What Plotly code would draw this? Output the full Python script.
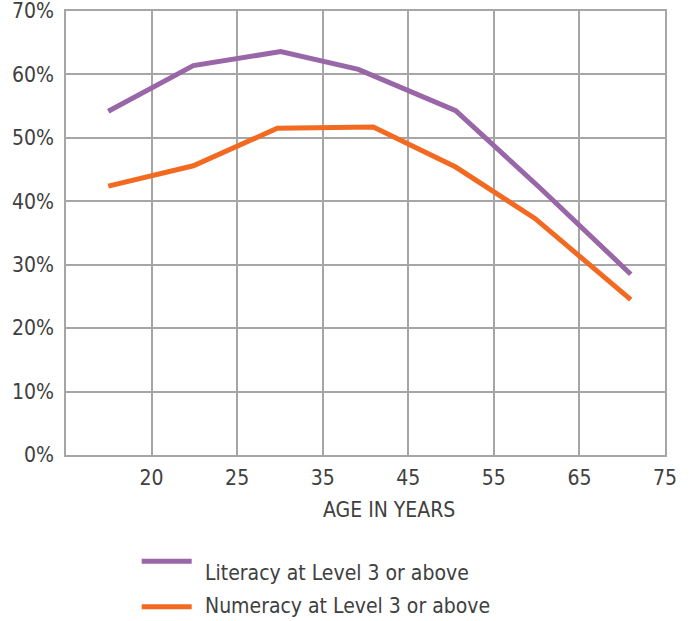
import plotly.graph_objects as go

# Age-band position (band index units; ticks at band boundaries)
lit_x = [0.494, 1.488, 2.509, 3.416, 4.554, 5.54, 6.60]
lit_y = [54.2, 61.4, 63.6, 60.8, 54.3, 42.1, 28.5]
num_x = [0.494, 1.488, 2.469, 3.591, 4.554, 5.48, 6.60]
num_y = [42.4, 45.6, 51.5, 51.7, 45.4, 37.3, 24.5]

tick_vals = [1, 2, 3, 4, 5, 6, 7]
tick_text = ["20", "25", "35", "45", "55", "65", "75"]
y_ticks = [0, 10, 20, 30, 40, 50, 60, 70]
y_text = [f"{v}%" for v in y_ticks]

PURPLE = "#9966A8"
ORANGE = "#F26A21"
GRID = "#A6A6A6"
TEXT = "#404040"
FONT = "Liberation Sans Narrow, DejaVu Sans Condensed, Noto Sans, sans-serif"

fig = go.Figure()
fig.add_trace(go.Scatter(x=lit_x, y=lit_y, mode="lines",
                         line=dict(color=PURPLE, width=5),
                         name="Literacy at Level 3 or above"))
fig.add_trace(go.Scatter(x=num_x, y=num_y, mode="lines",
                         line=dict(color=ORANGE, width=5),
                         name="Numeracy at Level 3 or above"))

fig.update_layout(
    width=694, height=621,
    margin=dict(l=66, r=29, t=11, b=166, autoexpand=False),
    paper_bgcolor="white", plot_bgcolor="white",
    showlegend=False,
    font=dict(family=FONT, color=TEXT, size=20),
)
fig.update_xaxes(range=[0, 7], tickvals=tick_vals, ticktext=tick_text,
                 showgrid=True, gridcolor=GRID, gridwidth=1.5,
                 showline=True, linecolor=GRID, linewidth=1.5, mirror=True,
                 zeroline=False, ticks="", ticklabelstandoff=3,
                 automargin=False, ticklabeloverflow="allow",
                 tickfont=dict(size=21, color=TEXT, family=FONT))
fig.update_yaxes(range=[0, 70], tickvals=y_ticks, ticktext=y_text,
                 showgrid=True, gridcolor=GRID, gridwidth=1.5,
                 showline=True, linecolor=GRID, linewidth=1.5, mirror=True,
                 zeroline=False, ticks="", ticklabelstandoff=6,
                 automargin=False, ticklabeloverflow="allow",
                 tickfont=dict(size=21, color=TEXT, family=FONT))

# axis title
fig.add_annotation(text="AGE IN YEARS", xref="paper", yref="paper",
                   x=(389 - 66) / 599, y=(455.2 - 510.5) / 444.5,
                   showarrow=False, xanchor="center", yanchor="middle",
                   font=dict(size=21, color=TEXT, family=FONT))

# manual legend
leg = [("Literacy at Level 3 or above", PURPLE, 561.5, 573),
       ("Numeracy at Level 3 or above", ORANGE, 607, 606)]
for name, col, ly, ty in leg:
    yy = (455.2 - ly) / 444.5
    fig.add_shape(type="line", xref="paper", yref="paper",
                  x0=(141.7 - 66) / 599, x1=(191.7 - 66) / 599, y0=yy, y1=yy,
                  line=dict(color=col, width=5))
    fig.add_annotation(text=name, xref="paper", yref="paper",
                       x=(203 - 66) / 599, y=(455.2 - ty) / 444.5,
                       showarrow=False, xanchor="left", yanchor="middle",
                       font=dict(size=21, color=TEXT, family=FONT))

fig.write_html("out.html", config={"displayModeBar": False},
               post_script="document.body.style.margin='0px';")
